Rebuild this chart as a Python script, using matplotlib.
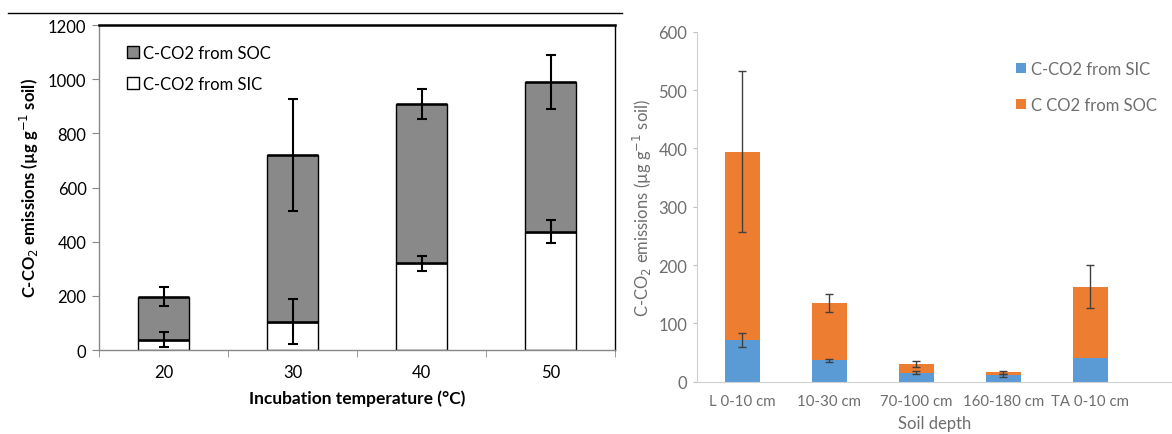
import numpy as np
import matplotlib; matplotlib.use('Agg')
import matplotlib.pyplot as plt
from matplotlib.lines import Line2D
from matplotlib.patches import Patch

plt.rcParams.update({"font.family": ["Lato", "DejaVu Sans"], "font.size": 10})

# --- left panel: incubation temperature ---
temps = ['20', '30', '40', '50']
sic_t = [38, 105, 320, 437]
sic_t_err = [28, 82, 28, 43]
tot_t = [196, 721, 908, 990]
tot_t_err = [35, 206, 56, 100]
soc_t = [t - s for t, s in zip(tot_t, sic_t)]

# --- right panel: soil depth ---
depths = ['L 0-10 cm', '10-30 cm', '70-100 cm', '160-180 cm', 'TA 0-10 cm']
sic_d = [71, 36.5, 15.5, 11, 40]
sic_d_err = [12, 2.5, 2.5, 3, 0]
tot_d = [394, 135, 30, 16, 163]
tot_d_err = [138, 16, 5.5, 2, 37]
soc_d = [t - s for t, s in zip(tot_d, sic_d)]

fig = plt.figure(figsize=(11.72, 4.35), dpi=100)

# ---------- left ----------
ax1 = fig.add_axes([0.0845, 0.1931, 0.4403, 0.7471])
x = np.arange(len(temps))
w = 0.40
ax1.bar(x, sic_t, w, color='white', edgecolor='black', lw=1.0, zorder=2)
ax1.bar(x, soc_t, w, bottom=sic_t, color='#898989', edgecolor='black', lw=1.0, zorder=2)
ax1.hlines(sic_t, x - w/2, x + w/2, color='black', lw=1.8, zorder=3)
ax1.hlines(tot_t, x - w/2, x + w/2, color='black', lw=1.8, zorder=3)
ax1.errorbar(x, sic_t, yerr=sic_t_err, fmt='none', ecolor='black', elinewidth=1.5,
             capsize=3.5, capthick=1.5, zorder=4)
ax1.errorbar(x, tot_t, yerr=tot_t_err, fmt='none', ecolor='black', elinewidth=1.5,
             capsize=3.5, capthick=1.5, zorder=4)
ax1.set_xlim(-0.5, 3.5)
ax1.set_ylim(0, 1200)
ax1.set_yticks(range(0, 1201, 200))
ax1.set_xticks(x)
ax1.set_xticklabels(temps)
ax1.set_xticks(np.arange(-0.5, 3.6, 1), minor=True)
ax1.tick_params(axis='x', which='major', length=0, pad=10, labelsize=12)
ax1.tick_params(axis='x', which='minor', length=5, color='#888888', direction='out')
ax1.tick_params(axis='y', length=5, color='#888888', labelsize=12, pad=4)
for s in ['left', 'bottom']:
    ax1.spines[s].set_color('#888888')
    ax1.spines[s].set_linewidth(1.0)
ax1.spines['top'].set_linewidth(1.8)
ax1.spines['right'].set_linewidth(1.0)
ax1.set_ylabel('C-CO$_2$ emissions (µg g$^{-1}$ soil)', fontweight='bold', fontsize=12, labelpad=5)
ax1.set_xlabel('Incubation temperature (°C)', fontweight='bold', fontsize=12.5, labelpad=7)
h1 = [Patch(facecolor='#898989', edgecolor='black', lw=1.0),
      Patch(facecolor='white', edgecolor='black', lw=1.0)]
ax1.legend(h1, ['C-CO2 from SOC', 'C-CO2 from SIC'], loc='upper left', frameon=False,
           bbox_to_anchor=(0.025, 0.985), handlelength=0.7, handleheight=0.7,
           handletextpad=0.25, labelspacing=0.9, fontsize=12)

# ---------- right ----------
gray = '#6e6e6e'
ax2 = fig.add_axes([0.5947, 0.1202, 0.4053, 0.8046])
x2 = np.arange(len(depths))
ax2.bar(x2, sic_d, 0.40, color='#5B9BD5', label='C-CO2 from SIC', zorder=2)
ax2.bar(x2, soc_d, 0.40, bottom=sic_d, color='#ED7D31', label='C CO2 from SOC', zorder=2)
m = np.array(sic_d_err) > 0
ax2.errorbar(x2[m], np.array(sic_d)[m], yerr=np.array(sic_d_err)[m], fmt='none',
             ecolor='#404040', elinewidth=1.0, capsize=3, zorder=4)
ax2.errorbar(x2, tot_d, yerr=tot_d_err, fmt='none', ecolor='#404040', elinewidth=1.0,
             capsize=3, zorder=4)
ax2.set_xlim(-0.52, 4.94)
ax2.set_ylim(0, 600)
ax2.set_yticks(range(0, 601, 100))
ax2.set_xticks(x2)
ax2.set_xticklabels(depths)
ax2.tick_params(axis='x', length=0, pad=9, labelsize=10.8, labelcolor=gray)
ax2.tick_params(axis='y', length=3, color='#bfbfbf', labelsize=12, labelcolor=gray, pad=4)
for s in ['top', 'right']:
    ax2.spines[s].set_visible(False)
for s in ['left', 'bottom']:
    ax2.spines[s].set_color('#d0d0d0')
ax2.set_ylabel('C-CO$_2$ emissions (µg g$^{-1}$ soil)', color=gray, fontsize=12, labelpad=3)
ax2.set_xlabel('Soil depth', color=gray, fontsize=12, labelpad=5)
leg = ax2.legend(loc='upper left', bbox_to_anchor=(0.64, 0.96), frameon=False,
                 handlelength=0.6, handleheight=0.6, handletextpad=0.3,
                 labelspacing=1.2, fontsize=12)
for t in leg.get_texts():
    t.set_color(gray)

# separator line at the top
fig.add_artist(Line2D([8/1172, 622/1172], [1 - 14/435, 1 - 14/435], color='black', lw=1.0))

fig.savefig('out.png', dpi=100, facecolor='white')
